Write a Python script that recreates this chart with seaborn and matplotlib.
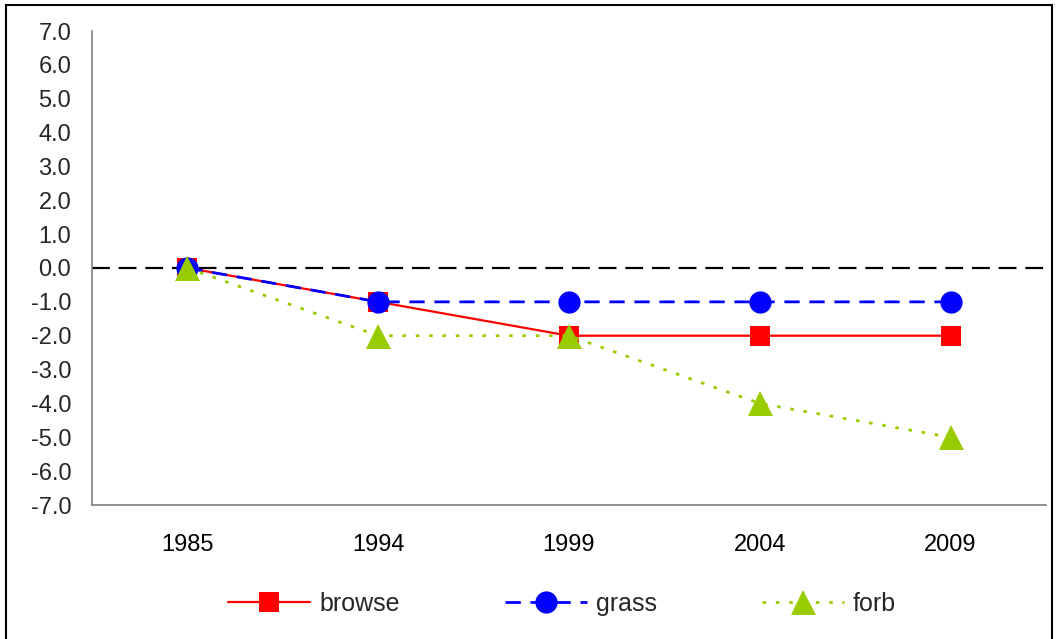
import matplotlib
matplotlib.use("Agg")
import matplotlib.pyplot as plt
import seaborn as sns
import pandas as pd
import numpy as np
from matplotlib.patches import Rectangle

years = ["1985", "1994", "1999", "2004", "2009"]
browse = [0.0, -1.0, -2.0, -2.0, -2.0]
grass = [0.0, -1.0, -1.0, -1.0, -1.0]
forb = [0.0, -2.0, -2.0, -4.0, -5.0]
yticks = [-7.0, -6.0, -5.0, -4.0, -3.0, -2.0, -1.0, 0.0, 1.0, 2.0, 3.0, 4.0, 5.0, 6.0, 7.0]

sns.set_theme(style="white")
plt.rcParams['font.family'] = ['Liberation Sans', 'DejaVu Sans']

fig = plt.figure(figsize=(10.58, 6.39), dpi=100)
ax = fig.add_axes([92/1058, 1-505/639, (1046-92)/1058, (505-31)/639])

pos = np.arange(len(years))
df = pd.DataFrame({"pos": pos, "browse": browse, "grass": grass, "forb": forb})

ax.axhline(0, color="black", lw=1.6, dashes=(8, 4), zorder=1)

sns.lineplot(data=df, x="pos", y="browse", ax=ax, color="#FF0000", lw=1.6,
             marker="s", markersize=14, markeredgewidth=0, label="browse", zorder=3)
sns.lineplot(data=df, x="pos", y="grass", ax=ax, color="#0000FF", lw=2,
             marker="o", markersize=16, markeredgewidth=0, label="grass", zorder=4)
sns.lineplot(data=df, x="pos", y="forb", ax=ax, color="#99CC00", lw=2,
             marker="^", markersize=18, markeredgewidth=0, label="forb", zorder=5)
ax.lines[2].set_dashes((5.5, 3.5))
ax.lines[3].set_dashes((1.3, 3.5))

ax.set_xlim(-0.5, len(years) - 0.5)
ax.set_ylim(-7, 7)
ax.set_yticks(yticks)
ax.set_yticklabels([f"{v:.1f}" for v in yticks])
ax.set_xticks(pos)
ax.set_xticklabels(years)
ax.set_xticks(np.arange(-0.5, len(years), 1.0), minor=True)
ax.tick_params(axis="x", which="major", length=0, pad=21, labelsize=17, colors="black")
ax.tick_params(axis="x", which="minor", length=7, width=1.2, color="#808080", direction="out")
ax.tick_params(axis="y", which="major", length=7, width=1.2, color="#808080", direction="out",
               labelsize=17, pad=8)
ax.set_xlabel("")
ax.set_ylabel("")
for s in ["top", "right"]:
    ax.spines[s].set_visible(False)
for s in ["left", "bottom"]:
    ax.spines[s].set_color("#808080")
    ax.spines[s].set_linewidth(1.2)

ax.get_legend().remove()
handles, labels = ax.get_legend_handles_labels()
fig.legend(handles[:3], labels[:3], loc="center", bbox_to_anchor=(562/1058, 1-604/639),
           ncol=3, frameon=False, fontsize=18, handlelength=3.3, columnspacing=4.2,
           handletextpad=0.35)

fig.patches.append(Rectangle((6/1058, -0.05), (1052-6)/1058, 1.05 - 5/639,
                             transform=fig.transFigure, fill=False, edgecolor="black", lw=1.5))

fig.savefig("out.png", dpi=100)
